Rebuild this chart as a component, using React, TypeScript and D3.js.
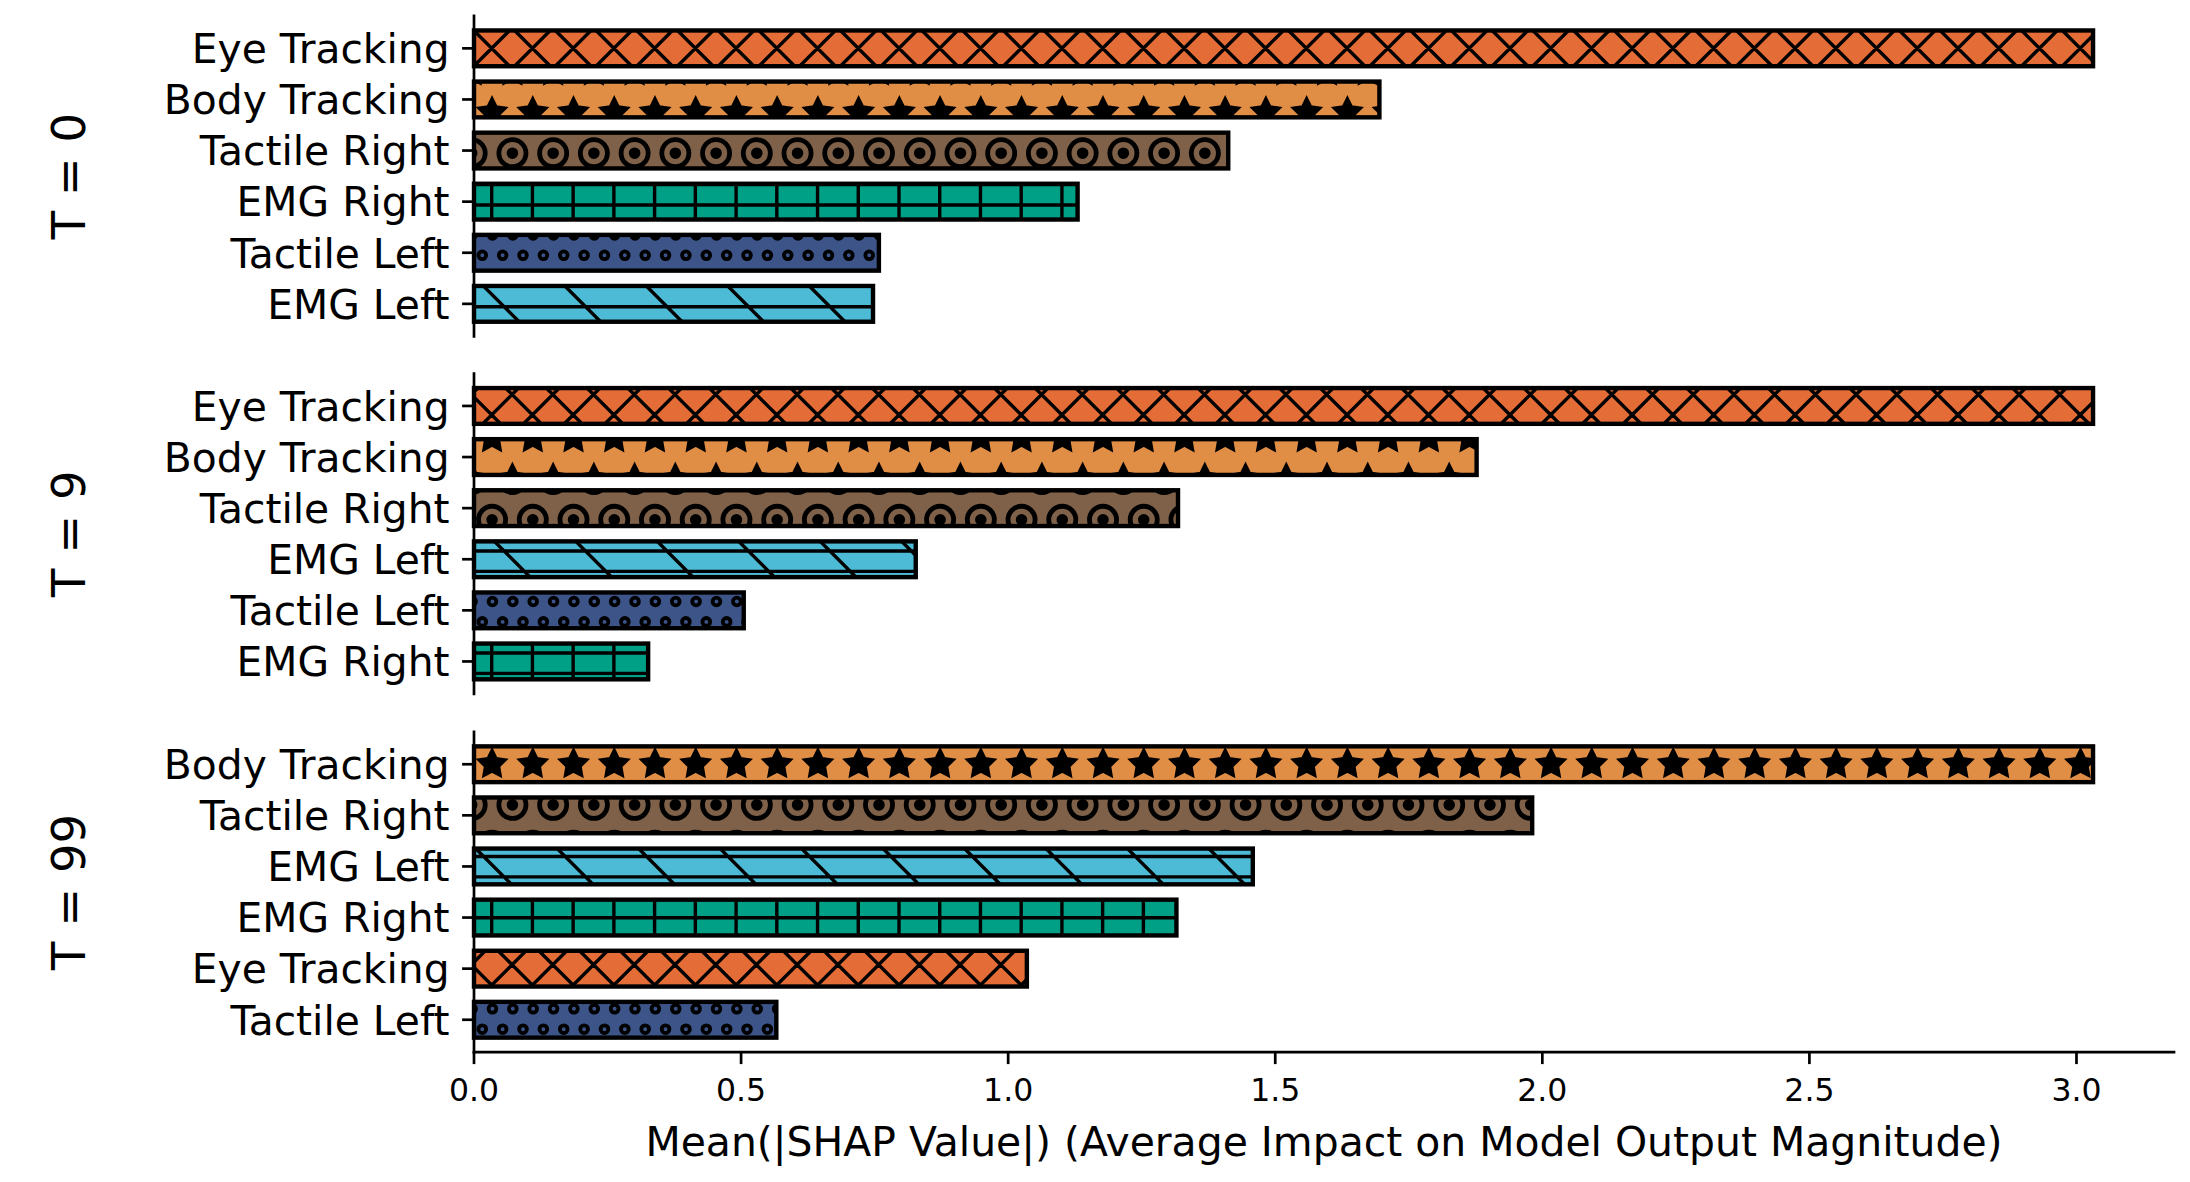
import React from 'react';
import * as d3 from 'd3';

// ---------- data ----------
const panelLabels = ['T = 0', 'T = 9', 'T = 99'];
const featuresT0 = ['Eye Tracking', 'Body Tracking', 'Tactile Right', 'EMG Right', 'Tactile Left', 'EMG Left'];
const valuesT0 = [3.031, 1.695, 1.412, 1.13, 0.758, 0.747];
const featuresT9 = ['Eye Tracking', 'Body Tracking', 'Tactile Right', 'EMG Left', 'Tactile Left', 'EMG Right'];
const valuesT9 = [3.031, 1.877, 1.318, 0.827, 0.505, 0.326];
const featuresT99 = ['Body Tracking', 'Tactile Right', 'EMG Left', 'EMG Right', 'Eye Tracking', 'Tactile Left'];
const valuesT99 = [3.031, 1.981, 1.458, 1.315, 1.035, 0.566];
const xTicks = [0, 0.5, 1.0, 1.5, 2.0, 2.5, 3.0];
const xLabel = 'Mean(|SHAP Value|) (Average Impact on Model Output Magnitude)';

const featureNames = ['Eye Tracking', 'Body Tracking', 'Tactile Right', 'EMG Right', 'Tactile Left', 'EMG Left'];
const featureColors = ['#E36C37', '#E08E45', '#7E6148', '#00A087', '#3C5488', '#4DBBD5'];
const featureHatches = ['xx', '*', 'O.', '+-', 'oo', '\\--'];

const panels = [
  { label: panelLabels[0], features: featuresT0, values: valuesT0 },
  { label: panelLabels[1], features: featuresT9, values: valuesT9 },
  { label: panelLabels[2], features: featuresT99, values: valuesT99 },
];

// ---------- layout ----------
const W = 2190;
const H = 1182;
const axLeft = 474;
const axRight = 2174;
const axTops = [15.9, 373.5, 731.8];
const axH = 320.4;
const barH = 0.7;
const FONT = '"DejaVu Sans", Verdana, sans-serif';
const P = 40.73; // hatch period
const HLW = 3.4; // hatch line width

const maxVal = d3.max([...valuesT0, ...valuesT9, ...valuesT99]) as number;
const x = d3.scaleLinear().domain([0, maxVal * 1.05]).range([axLeft, axRight]);

const mod = (a: number, m: number) => ((a % m) + m) % m;

function hatchElems(type: string, x0: number, y0: number, x1: number, y1: number, key: string) {
  const els: React.ReactElement[] = [];
  const pad = 20;
  const ne = (a: number, per: number) => {
    let d = '';
    const cmin = x0 + y0 - pad, cmax = x1 + y1 + pad;
    for (let c = a + Math.floor((cmin - a) / per) * per; c <= cmax; c += per) {
      d += `M${c - (y0 - pad)},${y0 - pad}L${c - (y1 + pad)},${y1 + pad}`;
    }
    return d;
  };
  const nw = (b: number, per: number) => {
    let d = '';
    const cmin = x0 - y1 - pad, cmax = x1 - y0 + pad;
    for (let c = b + Math.floor((cmin - b) / per) * per; c <= cmax; c += per) {
      d += `M${c + y0 - pad},${y0 - pad}L${c + y1 + pad},${y1 + pad}`;
    }
    return d;
  };
  const hor = (a: number, per: number) => {
    let d = '';
    for (let yy = a + Math.floor((y0 - pad - a) / per) * per; yy <= y1 + pad; yy += per) {
      d += `M${x0 - pad},${yy}L${x1 + pad},${yy}`;
    }
    return d;
  };
  const ver = (a: number, per: number) => {
    let d = '';
    for (let xx = a + Math.floor((x0 - pad - a) / per) * per; xx <= x1 + pad; xx += per) {
      d += `M${xx},${y0 - pad}L${xx},${y1 + pad}`;
    }
    return d;
  };
  const lattice = (ox: number, oy: number, per: number) => {
    const pts: [number, number][] = [];
    const jStart = Math.floor((y0 - pad - oy) / per);
    const jEnd = Math.ceil((y1 + pad - oy) / per);
    for (let j = jStart; j <= jEnd; j++) {
      const yy = oy + j * per;
      const sx = ox + (mod(j, 2) === 1 ? per / 2 : 0);
      for (let xx = sx + Math.floor((x0 - pad - sx) / per) * per; xx <= x1 + pad; xx += per) {
        pts.push([xx, yy]);
      }
    }
    return pts;
  };
  const line = (d: string, k: string) => (
    <path key={k} d={d} fill="none" stroke="#000" strokeWidth={HLW} />
  );
  if (type === 'xx') {
    els.push(line(ne(10.5, P) + nw(36.1, P), key + 'l'));
  } else if (type === '+-') {
    els.push(line(ver(2.94, P) + hor(1.3, P / 2), key + 'l'));
  } else if (type === '\\--') {
    els.push(line(hor(1.2, P / 2) + nw(34.5, 2 * P), key + 'l'));
  } else if (type === 'O.') {
    const r0 = 0.35 * P;
    const r1 = 0.1 * P;
    lattice(3.3, 31.0, P).forEach(([cx, cy], i) => {
      els.push(<circle key={key + 'o' + i} cx={cx} cy={cy} r={0.95 * r0} fill="none" stroke="#000" strokeWidth={0.1 * r0 + HLW} />);
      els.push(<circle key={key + 'd' + i} cx={cx} cy={cy} r={r1} fill="#000" stroke="#000" strokeWidth={HLW} />);
    });
  } else if (type === 'oo') {
    const r0 = 0.2 * (P / 2);
    lattice(3.7, 31.3, P / 2).forEach(([cx, cy], i) => {
      els.push(<circle key={key + 'o' + i} cx={cx} cy={cy} r={0.95 * r0} fill="none" stroke="#000" strokeWidth={0.1 * r0 + HLW} />);
    });
  } else if (type === '*') {
    const R = P / 3;
    lattice(3.3, 31.0, P).forEach(([cx, cy], i) => {
      const pts: string[] = [];
      for (let k = 0; k < 10; k++) {
        const ang = -Math.PI / 2 + (k * Math.PI) / 5;
        const rr = k % 2 === 0 ? R : 0.5 * R;
        pts.push(`${cx + rr * Math.cos(ang)},${cy + rr * Math.sin(ang)}`);
      }
      els.push(<polygon key={key + 's' + i} points={pts.join(' ')} fill="#000" stroke="#000" strokeWidth={HLW} strokeLinejoin="miter" />);
    });
  }
  return els;
}

export default function App() {
  return (
    <svg
      width={W}
      height={H}
      viewBox={`0 0 ${W} ${H}`}
      style={{ position: 'absolute', left: 0, top: 0, background: '#fff', display: 'block' }}
    >
      <rect x={0} y={0} width={W} height={H} fill="#fff" />
      {panels.map((p, pi) => {
        const top = axTops[pi];
        const n = p.features.length;
        const m = 0.05 * (n - 1 + barH);
        const y = d3.scaleLinear().domain([-barH / 2 - m, n - 1 + barH / 2 + m]).range([top, top + axH]);
        return (
          <g key={pi}>
            <defs>
              {p.features.map((f, i) => {
                const y0 = y(i - barH / 2);
                const y1 = y(i + barH / 2);
                return (
                  <clipPath id={`clip-${pi}-${i}`} key={i}>
                    <rect x={x(0)} y={y0} width={x(p.values[i]) - x(0)} height={y1 - y0} />
                  </clipPath>
                );
              })}
            </defs>
            {p.features.map((f, i) => {
              const fi = featureNames.indexOf(f);
              const y0 = y(i - barH / 2);
              const y1 = y(i + barH / 2);
              const x0 = x(0);
              const x1 = x(p.values[i]);
              return (
                <g key={i}>
                  <rect x={x0} y={y0} width={x1 - x0} height={y1 - y0} fill={featureColors[fi]} />
                  <g clipPath={`url(#clip-${pi}-${i})`}>
                    {hatchElems(featureHatches[fi], x0, y0, x1, y1, `h${pi}-${i}`)}
                  </g>
                  <rect x={x0} y={y0} width={x1 - x0} height={y1 - y0} fill="none" stroke="#000" strokeWidth={4.4} />
                </g>
              );
            })}
            {/* left spine */}
            <line x1={axLeft} x2={axLeft} y1={top} y2={top + axH} stroke="#000" strokeWidth={2.7} strokeLinecap="square" />
            {/* y ticks and labels */}
            {p.features.map((f, i) => (
              <g key={'t' + i}>
                <line x1={axLeft - 11.9} x2={axLeft} y1={y(i)} y2={y(i)} stroke="#000" strokeWidth={2.7} />
                <text
                  x={axLeft - 11.9 - 12.5}
                  y={y(i) + 14.8}
                  textAnchor="end"
                  fontFamily={FONT}
                  fontSize={40.8}
                  fill="#000"
                >
                  {f}
                </text>
              </g>
            ))}
            <text
              transform={`translate(84.5, ${top + axH / 2}) rotate(-90)`}
              textAnchor="middle"
              fontFamily={FONT}
              fontSize={46.5}
              fill="#000"
            >
              {p.label}
            </text>
            {pi === panels.length - 1 && (
              <g>
                <line x1={axLeft} x2={axRight} y1={top + axH} y2={top + axH} stroke="#000" strokeWidth={2.7} strokeLinecap="square" />
                {xTicks.map((t) => (
                  <g key={t}>
                    <line x1={x(t)} x2={x(t)} y1={top + axH} y2={top + axH + 11.9} stroke="#000" strokeWidth={2.7} />
                    <text x={x(t)} y={1101} textAnchor="middle" fontFamily={FONT} fontSize={31.5} fill="#000">
                      {d3.format('.1f')(t)}
                    </text>
                  </g>
                ))}
                <text x={(axLeft + axRight) / 2} y={1156} textAnchor="middle" fontFamily={FONT} fontSize={40.9} fill="#000">
                  {xLabel}
                </text>
              </g>
            )}
          </g>
        );
      })}
    </svg>
  );
}
